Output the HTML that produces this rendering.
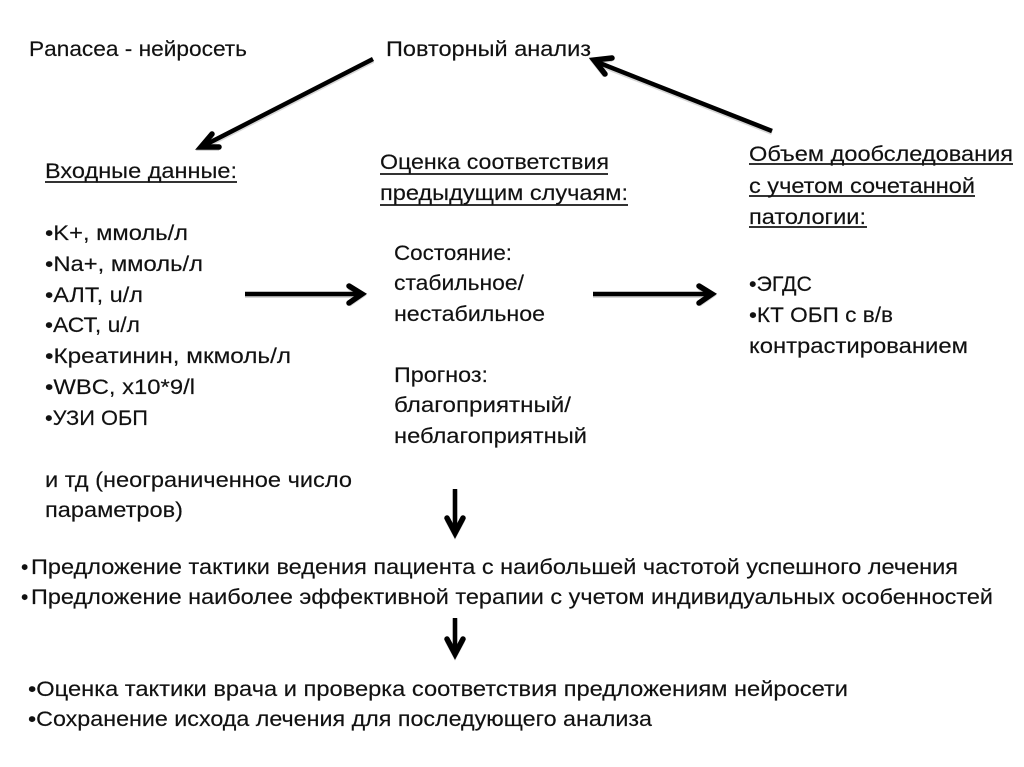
<!DOCTYPE html>
<html lang="ru">
<head>
<meta charset="utf-8">
<style>
html,body{margin:0;padding:0;background:#fff;}
svg{display:block;}
text{font-family:"Liberation Sans",sans-serif;font-size:21px;fill:#111;stroke:#111;stroke-width:.15px;}
.u{stroke:#161616;stroke-width:1.7;}
.a{stroke:#000;stroke-width:4.5;fill:none;stroke-linejoin:round;stroke-linecap:butt;}
.h{stroke:#000;stroke-width:5.5;fill:none;stroke-linejoin:miter;stroke-linecap:round;}
.s{stroke:#999;stroke-width:5;fill:none;opacity:.4;}
</style>
</head>
<body>
<svg width="1024" height="767" viewBox="0 0 1024 767" xmlns="http://www.w3.org/2000/svg">
<rect width="1024" height="767" fill="#fff"/>

<g class="s" transform="translate(0,1.5)">
<path d="M373 59L203 146M219 147H201L212 134"/>
<path d="M772 131L597 62M612 58L594 60L605 74"/>
<path d="M245 294H360M349 286L362 294L349 303"/>
<path d="M593 294H710M699 286L712 294L699 303"/>
<path d="M455 489V531M447 518L455 533L463 518"/>
<path d="M455 618V652M447 639L455 654L463 639"/>
</g>
<g class="a">
<path d="M373 59L203 146"/>
<path d="M772 131L597 62"/>
<path d="M245 294H360"/>
<path d="M593 294H710"/>
<path d="M455 489V531"/>
<path d="M455 618V652"/>
</g>
<g class="h">
<path d="M219 147H201L212 134"/>
<path d="M612 58L594 60L605 74"/>
<path d="M349 286L362 294L349 303"/>
<path d="M699 286L712 294L699 303"/>
<path d="M447 518L455 533L463 518"/>
<path d="M447 639L455 654L463 639"/>
</g>

<text x="29" y="56" textLength="218" lengthAdjust="spacingAndGlyphs">Panacea - нейросеть</text>
<text x="386" y="56" textLength="205" lengthAdjust="spacingAndGlyphs">Повторный анализ</text>

<text x="45" y="178" textLength="192" lengthAdjust="spacingAndGlyphs">Входные данные:</text>
<line class="u" x1="45" y1="182" x2="237" y2="182"/>
<text x="45" y="240" textLength="143" lengthAdjust="spacingAndGlyphs">•K+, ммоль/л</text>
<text x="45" y="271" textLength="158" lengthAdjust="spacingAndGlyphs">•Na+, ммоль/л</text>
<text x="45" y="302" textLength="98" lengthAdjust="spacingAndGlyphs">•АЛТ, u/л</text>
<text x="45" y="332" textLength="95" lengthAdjust="spacingAndGlyphs">•АСТ, u/л</text>
<text x="45" y="363" textLength="246" lengthAdjust="spacingAndGlyphs">•Креатинин, мкмоль/л</text>
<text x="45" y="394" textLength="150" lengthAdjust="spacingAndGlyphs">•WBC, x10*9/l</text>
<text x="45" y="425" textLength="103" lengthAdjust="spacingAndGlyphs">•УЗИ ОБП</text>
<text x="45" y="487" textLength="307" lengthAdjust="spacingAndGlyphs">и тд (неограниченное число</text>
<text x="45" y="517" textLength="138" lengthAdjust="spacingAndGlyphs">параметров)</text>

<text x="380" y="169" textLength="229" lengthAdjust="spacingAndGlyphs">Оценка соответствия</text>
<line class="u" x1="380" y1="174" x2="608" y2="174"/>
<text x="380" y="200" textLength="248" lengthAdjust="spacingAndGlyphs">предыдущим случаям:</text>
<line class="u" x1="380" y1="205" x2="628" y2="205"/>
<text x="394" y="260" textLength="118" lengthAdjust="spacingAndGlyphs">Состояние:</text>
<text x="394" y="290" textLength="130" lengthAdjust="spacingAndGlyphs">стабильное/</text>
<text x="394" y="321" textLength="151" lengthAdjust="spacingAndGlyphs">нестабильное</text>
<text x="394" y="382" textLength="94" lengthAdjust="spacingAndGlyphs">Прогноз:</text>
<text x="394" y="412" textLength="177" lengthAdjust="spacingAndGlyphs">благоприятный/</text>
<text x="394" y="443" textLength="193" lengthAdjust="spacingAndGlyphs">неблагоприятный</text>

<text x="749" y="161" textLength="264" lengthAdjust="spacingAndGlyphs">Объем дообследования</text>
<line class="u" x1="749" y1="164" x2="1013" y2="164"/>
<text x="749" y="193" textLength="226" lengthAdjust="spacingAndGlyphs">с учетом сочетанной</text>
<line class="u" x1="749" y1="196" x2="975" y2="196"/>
<text x="749" y="224" textLength="117" lengthAdjust="spacingAndGlyphs">патологии:</text>
<line class="u" x1="749" y1="227" x2="867" y2="227"/>
<text x="749" y="291" textLength="63" lengthAdjust="spacingAndGlyphs">•ЭГДС</text>
<text x="749" y="322" textLength="144" lengthAdjust="spacingAndGlyphs">•КТ ОБП с в/в</text>
<text x="749" y="353" textLength="219" lengthAdjust="spacingAndGlyphs">контрастированием</text>

<text x="21" y="574">•</text>
<text x="31" y="574" textLength="927" lengthAdjust="spacingAndGlyphs">Предложение тактики ведения пациента с наибольшей частотой успешного лечения</text>
<text x="21" y="604">•</text>
<text x="31" y="604" textLength="962" lengthAdjust="spacingAndGlyphs">Предложение наиболее эффективной терапии с учетом индивидуальных особенностей</text>
<text x="28" y="696" textLength="820" lengthAdjust="spacingAndGlyphs">•Оценка тактики врача и проверка соответствия предложениям нейросети</text>
<text x="28" y="726" textLength="624" lengthAdjust="spacingAndGlyphs">•Сохранение исхода лечения для последующего анализа</text>
</svg>
</body>
</html>
